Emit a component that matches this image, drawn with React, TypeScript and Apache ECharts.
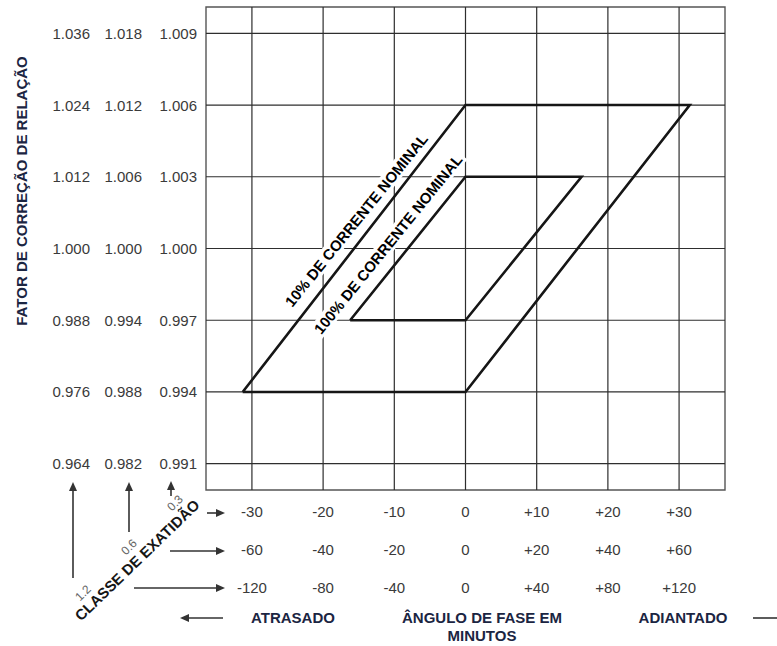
import React, { useEffect, useRef } from "react";
import * as echarts from "echarts";

// Ratio correction factor tick values, one column per accuracy class
const ratioClass03 = [0.991, 0.994, 0.997, 1.0, 1.003, 1.006, 1.009];
const ratioClass06 = [0.982, 0.988, 0.994, 1.0, 1.006, 1.012, 1.018];
const ratioClass12 = [0.964, 0.976, 0.988, 1.0, 1.012, 1.024, 1.036];

// Phase angle tick values (minutes), one row per accuracy class
const phaseClass03 = [-30, -20, -10, 0, 10, 20, 30];
const phaseClass06 = [-60, -40, -20, 0, 20, 40, 60];
const phaseClass12 = [-120, -80, -40, 0, 40, 80, 120];

// Accuracy limit parallelograms, in class 0.3 units: [phase angle, ratio factor]
const limit10pct = [
  [-31.3, 0.994],
  [0, 0.994],
  [31.5, 1.006],
  [0, 1.006],
  [-31.3, 0.994],
];
const limit100pct = [
  [-16.2, 0.997],
  [0, 0.997],
  [16.3, 1.003],
  [0, 1.003],
  [-16.2, 0.997],
];

// Plotted extents, in class 0.3 units
const phaseRange = [-36.45, 36.45];
const ratioRange = [0.9899, 1.0101];

const curveLabels = ["10% DE CORRENTE NOMINAL", "100% DE CORRENTE NOMINAL"];
const classNames = ["1.2", "0.6", "0.3"];

export default function App() {
  const ref = useRef<HTMLDivElement>(null);

  useEffect(() => {
    document.body.style.margin = "0";
    const chart = echarts.init(ref.current!, null, { renderer: "svg" });

    const font = "'Liberation Sans', Arial, Helvetica, sans-serif";
    const numColor = "#3a3a3a";
    const titleColor = "#1b2542";
    const inkColor = "#161616";
    const gridColor = "#2e2e2e";
    const arrowColor = "#333333";

    const hidden = {
      axisLine: { show: false },
      axisTick: { show: false },
      splitLine: { show: false },
    };

    const phaseFmt = (v: number) => (v > 0 ? `+${v}` : `${v}`);

    const xAxisFor = (ticks: number[], k: number, offset: number) => ({
      type: "value",
      gridIndex: 0,
      position: "bottom",
      offset,
      min: phaseRange[0] * k,
      max: phaseRange[1] * k,
      ...hidden,
      axisLabel: {
        customValues: ticks,
        formatter: phaseFmt,
        margin: 14,
        fontSize: 15,
        color: numColor,
        fontFamily: font,
        hideOverlap: false,
      },
    });

    const yAxisFor = (ticks: number[], k: number, offset: number) => ({
      type: "value",
      gridIndex: 0,
      position: "left",
      offset,
      min: 1 + k * (ratioRange[0] - 1),
      max: 1 + k * (ratioRange[1] - 1),
      ...hidden,
      axisLabel: {
        customValues: ticks,
        formatter: (v: number) => v.toFixed(3),
        margin: 9,
        fontSize: 15,
        color: numColor,
        fontFamily: font,
        hideOverlap: false,
      },
    });

    const arrow = (x1: number, y1: number, x2: number, y2: number) => {
      const a = Math.atan2(y2 - y1, x2 - x1);
      const L = 9;
      const W = 4;
      const bx = x2 - L * Math.cos(a);
      const by = y2 - L * Math.sin(a);
      return [
        {
          type: "line",
          shape: { x1, y1, x2: bx, y2: by },
          style: { stroke: arrowColor, lineWidth: 1.6 },
        },
        {
          type: "polygon",
          shape: {
            points: [
              [x2, y2],
              [bx - W * Math.sin(a), by + W * Math.cos(a)],
              [bx + W * Math.sin(a), by - W * Math.cos(a)],
            ],
          },
          style: { fill: arrowColor },
        },
      ];
    };

    const text = (
      s: string,
      x: number,
      y: number,
      opts: { rot?: number; size?: number; bold?: boolean; color?: string } = {}
    ) => ({
      type: "text",
      x,
      y,
      rotation: ((opts.rot ?? 0) * Math.PI) / 180,
      style: {
        text: s,
        fill: opts.color ?? titleColor,
        font: `${opts.bold === false ? "normal" : "bold"} ${opts.size ?? 15}px ${font}`,
        align: "center",
        verticalAlign: "middle",
      },
    });

    // One straight grid line through the whole plot, drawn on the class 0.3 axes
    const gridLine = (pts: number[][]) => ({
      type: "line",
      xAxisIndex: 0,
      yAxisIndex: 0,
      data: pts,
      symbol: "none",
      silent: true,
      z: 1,
      lineStyle: { color: gridColor, width: 1.2 },
    });

    const limitLine = (data: number[][]) => ({
      type: "line",
      xAxisIndex: 0,
      yAxisIndex: 0,
      data,
      symbol: "none",
      silent: true,
      z: 3,
      lineStyle: { color: inkColor, width: 2.6, join: "miter" },
    });

    chart.setOption({
      animation: false,
      grid: {
        left: 206,
        top: 7,
        width: 519,
        height: 483,
        show: true,
        borderColor: "#555",
        borderWidth: 1.4,
        backgroundColor: "transparent",
      },
      xAxis: [
        xAxisFor(phaseClass03, 1, 0),
        xAxisFor(phaseClass06, 2, 38),
        xAxisFor(phaseClass12, 4, 76),
      ],
      yAxis: [
        yAxisFor(ratioClass03, 1, 0),
        yAxisFor(ratioClass06, 2, 55),
        yAxisFor(ratioClass12, 4, 107),
      ],
      series: [
        ...phaseClass03.map((v) =>
          gridLine([
            [v, ratioRange[0]],
            [v, ratioRange[1]],
          ])
        ),
        ...ratioClass03.map((v) =>
          gridLine([
            [phaseRange[0], v],
            [phaseRange[1], v],
          ])
        ),
        // Curve captions, laid along the slanted sides of the limit areas
        {
          type: "custom",
          xAxisIndex: 0,
          yAxisIndex: 0,
          silent: true,
          z: 2,
          data: [
            [-15.35, 1.00119, 0],
            [-10.9, 1.00018, 1],
          ],
          renderItem: (_params: any, api: any) => {
            const p = api.coord([api.value(0), api.value(1)]);
            return {
              type: "text",
              x: p[0],
              y: p[1],
              rotation: (51 * Math.PI) / 180,
              style: {
                text: curveLabels[api.value(2)],
                font: `bold 15px ${font}`,
                fill: "#000",
                align: "center",
                verticalAlign: "middle",
                backgroundColor: "#fff",
                padding: [1, 3],
              },
            };
          },
        },
        limitLine(limit10pct),
        limitLine(limit100pct),
      ],
      graphic: [
        text("FATOR DE CORREÇÃO DE RELAÇÃO", 21, 191, { rot: 90 }),
        text("CLASSE DE EXATIDÃO", 137, 560, { rot: 44, color: inkColor }),
        text(classNames[0], 83, 593, { rot: 45, size: 12, bold: false, color: "#666" }),
        text(classNames[1], 129, 547, { rot: 45, size: 12, bold: false, color: "#666" }),
        text(classNames[2], 175, 503, { rot: 45, size: 12, bold: false, color: "#666" }),
        text("ATRASADO", 293, 617),
        text("ÂNGULO DE FASE EM", 482, 617),
        text("MINUTOS", 482, 635),
        text("ADIANTADO", 683, 617),
        ...arrow(73, 578, 73, 482),
        ...arrow(129, 532, 129, 482),
        ...arrow(171, 496, 171, 481),
        ...arrow(207, 513, 225, 513),
        ...arrow(170, 551, 225, 551),
        ...arrow(134, 588, 225, 588),
        ...arrow(223, 618, 180, 618),
        {
          type: "line",
          shape: { x1: 753, y1: 618, x2: 777, y2: 618 },
          style: { stroke: arrowColor, lineWidth: 1.6 },
        },
      ],
    });

    return () => chart.dispose();
  }, []);

  return (
    <div
      ref={ref}
      style={{ width: 777, height: 646, background: "#fff", overflow: "hidden" }}
    />
  );
}
